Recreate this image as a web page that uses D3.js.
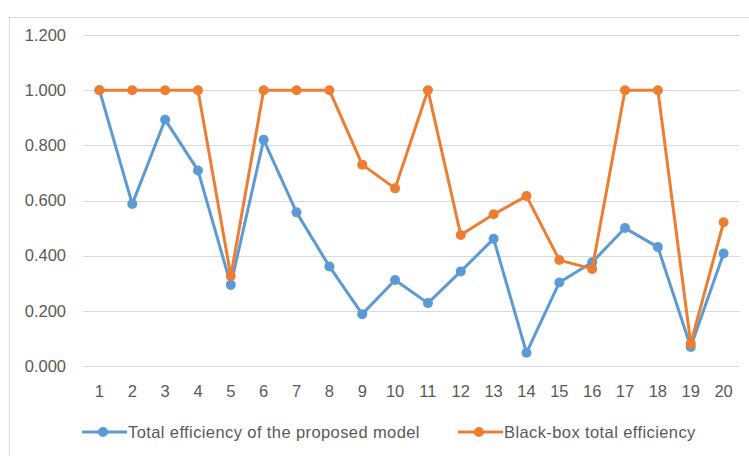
<!DOCTYPE html>
<html>
<head>
<meta charset="utf-8">
<script src="https://cdn.jsdelivr.net/npm/d3@7"></script>
<style>
  body { margin: 0; background: #fff; }
  text { font-family: "Liberation Sans", Arial, sans-serif; fill: #595959; }
</style>
</head>
<body>
<div id="chart"></div>
<script>
// data
const categories = d3.range(1, 21).map(String)
const proposed = [1.000, 0.587, 0.893, 0.709, 0.294, 0.820, 0.557, 0.361, 0.188, 0.312,
                  0.228, 0.343, 0.461, 0.048, 0.303, 0.376, 0.500, 0.431, 0.069, 0.408]
const blackBox = [1.000, 1.000, 1.000, 1.000, 0.326, 1.000, 1.000, 1.000, 0.730, 0.644,
                  1.000, 0.475, 0.550, 0.616, 0.384, 0.352, 1.000, 1.000, 0.081, 0.521]
const yTicks = [0, 0.2, 0.4, 0.6, 0.8, 1.0, 1.2]
const seriesNames = ["Total efficiency of the proposed model", "Black-box total efficiency"]
const colors = ["#5B9BD5", "#ED7D31"]

const width = 749
const height = 456

const svg = d3.select("#chart")
  .append("svg")
    .attr("width", width)
    .attr("height", height)

// chart area border
svg.append("rect")
  .attr("x", 9.5).attr("y", 17.5)
  .attr("width", 760).attr("height", 460)
  .attr("fill", "none")
  .attr("stroke", "#D9D9D9")

const x = d3.scaleBand()
  .domain(categories)
  .range([83, 740])

const y = d3.scaleLinear()
  .domain([0, 1.2])
  .range([366, 35])

// gridlines
svg.append("g")
  .selectAll("line")
  .data(yTicks)
  .join("line")
    .attr("x1", 83).attr("x2", 740)
    .attr("y1", d => Math.round(y(d)) + 0.5)
    .attr("y2", d => Math.round(y(d)) + 0.5)
    .attr("stroke", "#D9D9D9")
    .attr("stroke-width", 1)

// y labels
svg.append("g")
  .selectAll("text")
  .data(yTicks)
  .join("text")
    .attr("x", 66)
    .attr("y", d => y(d))
    .attr("dy", "0.35em")
    .attr("text-anchor", "end")
    .style("font-size", "16.5px")
    .text(d => d3.format(".3f")(d))

// x labels
svg.append("g")
  .selectAll("text")
  .data(categories)
  .join("text")
    .attr("x", d => x(d) + x.bandwidth() / 2)
    .attr("y", 391)
    .attr("dy", "0.35em")
    .attr("text-anchor", "middle")
    .style("font-size", "16.5px")
    .text(d => d)

const line = d3.line()
  .x((d, i) => x(categories[i]) + x.bandwidth() / 2)
  .y(d => y(d))

const series = [proposed, blackBox]

series.forEach(function(vals, k) {
  const g = svg.append("g")
  g.append("path")
    .datum(vals)
    .attr("d", line)
    .attr("fill", "none")
    .attr("stroke", colors[k])
    .attr("stroke-width", 3)
    .attr("stroke-linejoin", "round")
  g.selectAll("circle")
    .data(vals)
    .join("circle")
      .attr("cx", (d, i) => x(categories[i]) + x.bandwidth() / 2)
      .attr("cy", d => y(d))
      .attr("r", 5)
      .attr("fill", colors[k])
})

// legend
const legendX = [82, 458]
const legend = svg.append("g")
  .selectAll("g")
  .data(seriesNames)
  .join("g")
    .attr("transform", (d, i) => `translate(${legendX[i]},432)`)

legend.append("line")
  .attr("x1", 0).attr("x2", 45)
  .attr("stroke", (d, i) => colors[i])
  .attr("stroke-width", 3)
legend.append("circle")
  .attr("cx", 21)
  .attr("r", 5)
  .attr("fill", (d, i) => colors[i])
legend.append("text")
  .attr("x", 46)
  .attr("dy", "0.35em")
  .style("font-size", "16.5px")
  .style("letter-spacing", "0.4px")
  .text(d => d)
</script>
</body>
</html>
